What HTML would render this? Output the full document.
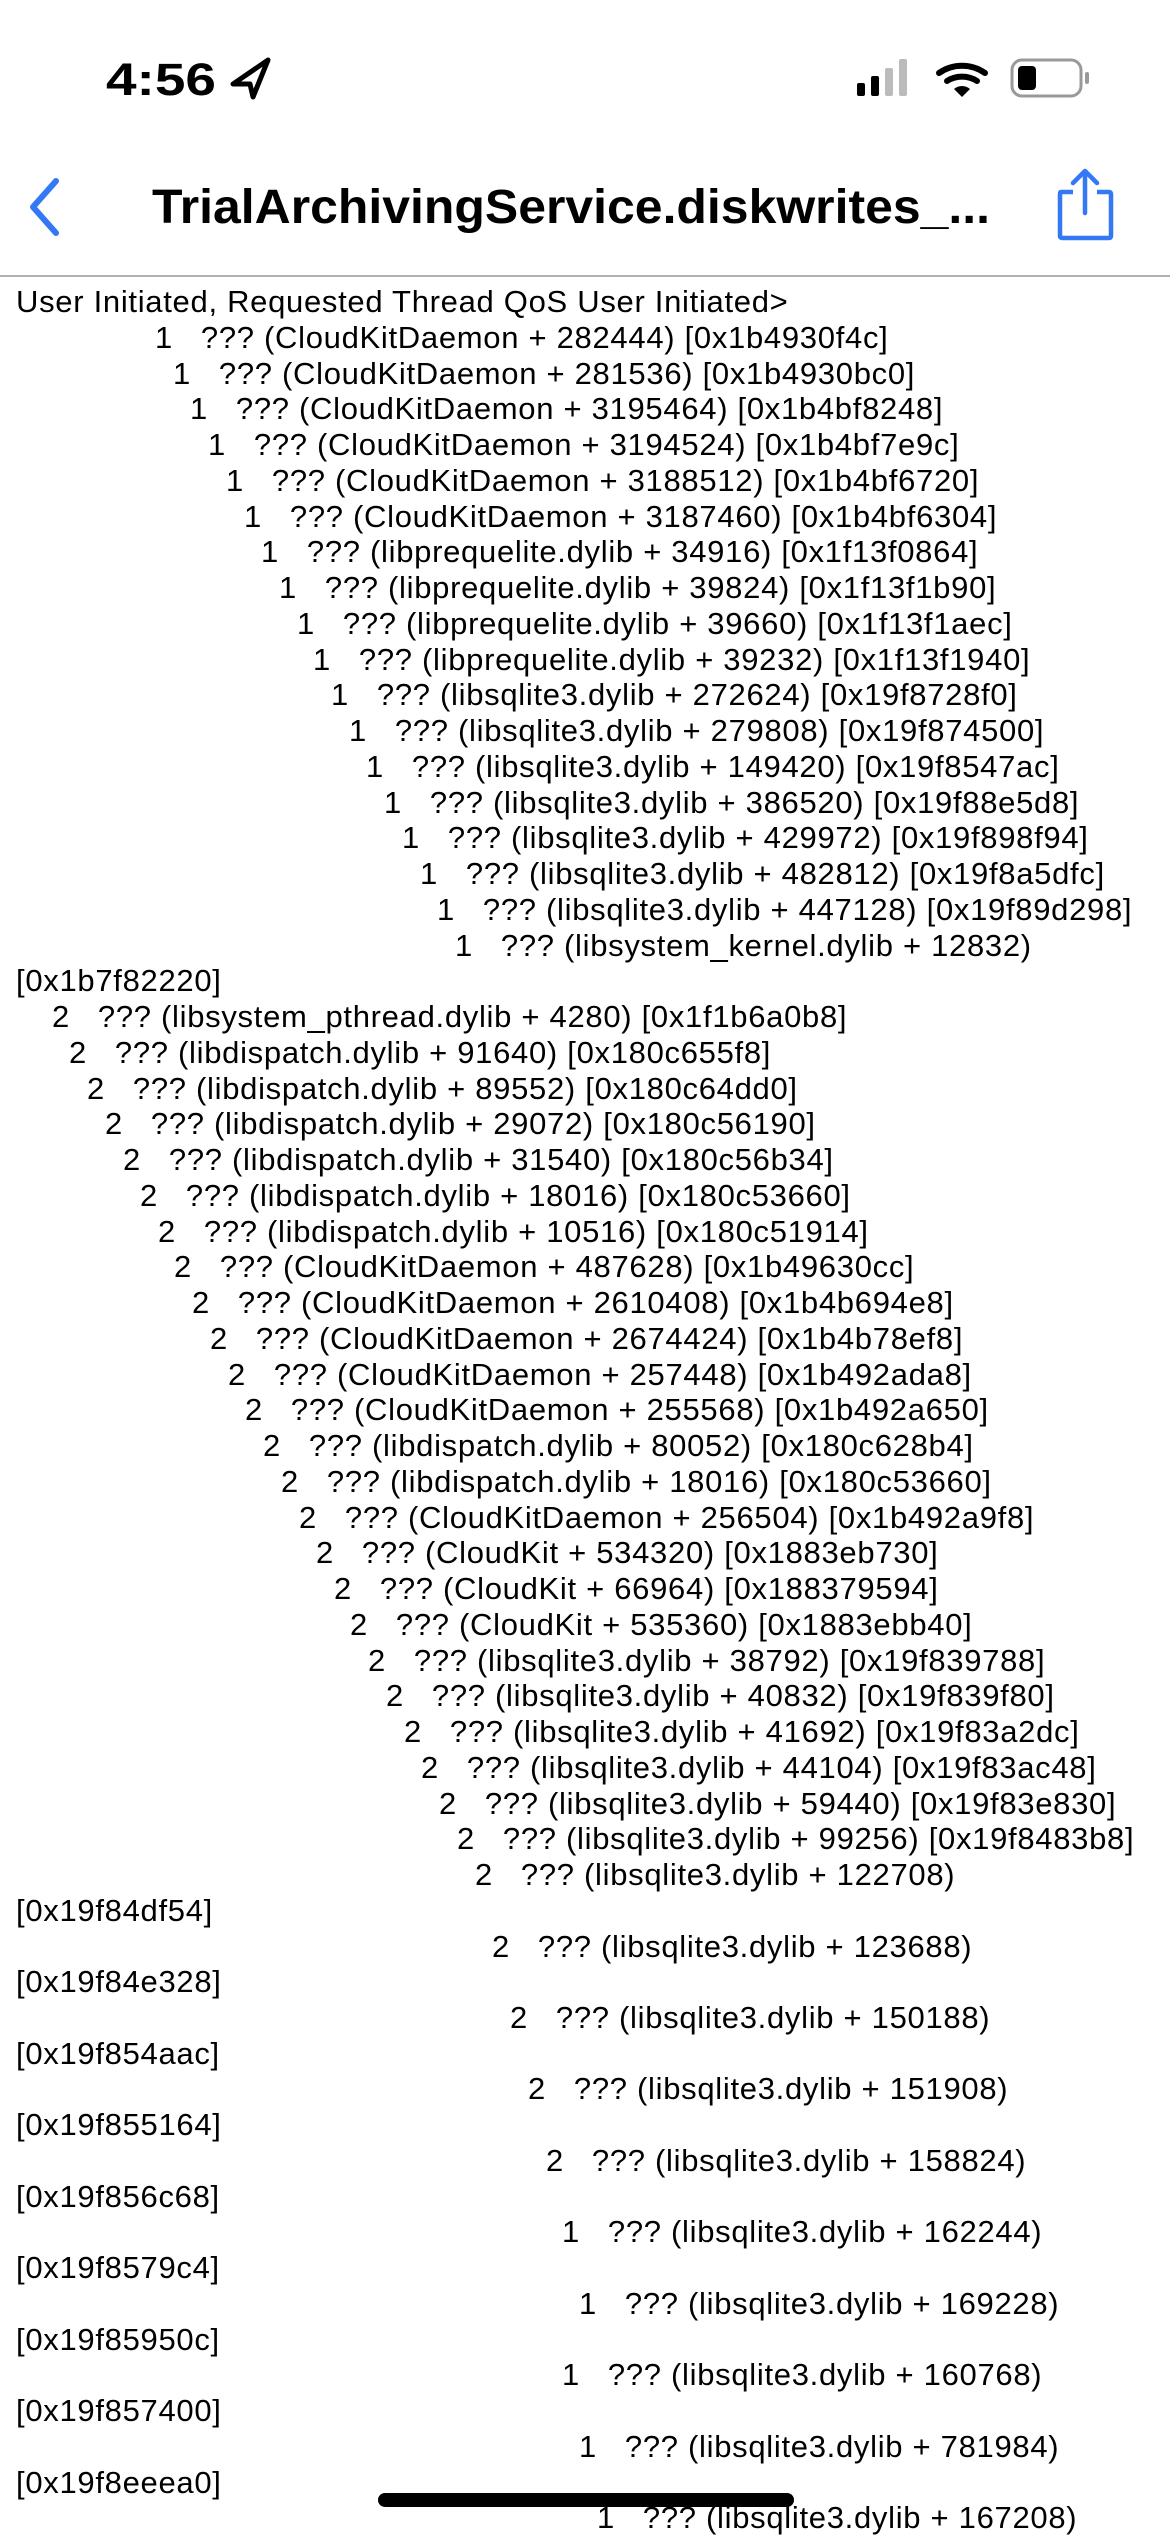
<!DOCTYPE html>
<html><head><meta charset="utf-8">
<style>
html,body{margin:0;padding:0;background:#fff;}
body{width:1170px;height:2532px;position:relative;overflow:hidden;font-family:"Liberation Sans",sans-serif;color:#000;}
.l{position:absolute;white-space:pre;font-size:31px;letter-spacing:0.7px;line-height:36px;height:36px;margin-top:3px;}
</style></head><body>
<svg width="1170" height="280" style="position:absolute;left:0;top:0" xmlns="http://www.w3.org/2000/svg">
  <text x="106" y="95" font-family="Liberation Sans" font-weight="bold" font-size="45" textLength="110" lengthAdjust="spacingAndGlyphs">4:56</text>
  <path d="M268 60 L233 84 L250 84 L253 97 Z" fill="none" stroke="#000" stroke-width="5" stroke-linejoin="round"/>
  <rect x="857" y="83" width="8" height="13" rx="2" fill="#000"/>
  <rect x="871" y="76" width="8" height="20" rx="2" fill="#000"/>
  <rect x="885" y="68" width="8" height="28" rx="2" fill="#bbb"/>
  <rect x="899" y="59" width="8" height="37" rx="2" fill="#bbb"/>
  <path d="M939 73 A40 40 0 0 1 985 73" fill="none" stroke="#000" stroke-width="6" stroke-linecap="round"/>
  <path d="M947 81 A28 28 0 0 1 977 81" fill="none" stroke="#000" stroke-width="6" stroke-linecap="round"/>
  <path d="M954 89 L962 97 L970 89 A12 12 0 0 0 954 89 Z" fill="#000"/>
  <rect x="1012" y="60" width="69" height="36" rx="10" fill="none" stroke="#999" stroke-width="3"/>
  <rect x="1018" y="66" width="18" height="24" rx="4" fill="#000"/>
  <rect x="1085" y="72" width="4" height="12" rx="2" fill="#999"/>
  <path d="M56 181 L33 207 L56 233" fill="none" stroke="#3478f6" stroke-width="6" stroke-linecap="round" stroke-linejoin="round"/>
  <text x="152" y="223" font-family="Liberation Sans" font-weight="bold" font-size="48" textLength="838" lengthAdjust="spacingAndGlyphs">TrialArchivingService.diskwrites_...</text>
  <path d="M1073 192 L1061 192 Q1060 192 1060 194 L1060 236 Q1060 238 1063 238 L1109 238 Q1111 238 1111 236 L1111 194 Q1111 192 1109 192 L1097 192" fill="none" stroke="#3478f6" stroke-width="4.5" stroke-linejoin="round"/>
  <path d="M1085 213 L1085 172 M1073 183 L1085 171 L1097 183" fill="none" stroke="#3478f6" stroke-width="4.5" stroke-linecap="round" stroke-linejoin="round"/>
  <line x1="0" y1="276" x2="1170" y2="276" stroke="#b0b0b0" stroke-width="2"/>
</svg>

<div class="l" style="top:281px;left:16px">User Initiated, Requested Thread QoS User Initiated&gt;</div>
<div class="l" style="top:317px;left:155px">1   ??? (CloudKitDaemon + 282444) [0x1b4930f4c]</div>
<div class="l" style="top:353px;left:173px">1   ??? (CloudKitDaemon + 281536) [0x1b4930bc0]</div>
<div class="l" style="top:388px;left:190px">1   ??? (CloudKitDaemon + 3195464) [0x1b4bf8248]</div>
<div class="l" style="top:424px;left:208px">1   ??? (CloudKitDaemon + 3194524) [0x1b4bf7e9c]</div>
<div class="l" style="top:460px;left:226px">1   ??? (CloudKitDaemon + 3188512) [0x1b4bf6720]</div>
<div class="l" style="top:496px;left:244px">1   ??? (CloudKitDaemon + 3187460) [0x1b4bf6304]</div>
<div class="l" style="top:531px;left:261px">1   ??? (libprequelite.dylib + 34916) [0x1f13f0864]</div>
<div class="l" style="top:567px;left:279px">1   ??? (libprequelite.dylib + 39824) [0x1f13f1b90]</div>
<div class="l" style="top:603px;left:297px">1   ??? (libprequelite.dylib + 39660) [0x1f13f1aec]</div>
<div class="l" style="top:639px;left:313px">1   ??? (libprequelite.dylib + 39232) [0x1f13f1940]</div>
<div class="l" style="top:674px;left:331px">1   ??? (libsqlite3.dylib + 272624) [0x19f8728f0]</div>
<div class="l" style="top:710px;left:349px">1   ??? (libsqlite3.dylib + 279808) [0x19f874500]</div>
<div class="l" style="top:746px;left:366px">1   ??? (libsqlite3.dylib + 149420) [0x19f8547ac]</div>
<div class="l" style="top:782px;left:384px">1   ??? (libsqlite3.dylib + 386520) [0x19f88e5d8]</div>
<div class="l" style="top:817px;left:402px">1   ??? (libsqlite3.dylib + 429972) [0x19f898f94]</div>
<div class="l" style="top:853px;left:420px">1   ??? (libsqlite3.dylib + 482812) [0x19f8a5dfc]</div>
<div class="l" style="top:889px;left:437px">1   ??? (libsqlite3.dylib + 447128) [0x19f89d298]</div>
<div class="l" style="top:925px;left:455px">1   ??? (libsystem_kernel.dylib + 12832)</div>
<div class="l" style="top:960px;left:16px">[0x1b7f82220]</div>
<div class="l" style="top:996px;left:52px">2   ??? (libsystem_pthread.dylib + 4280) [0x1f1b6a0b8]</div>
<div class="l" style="top:1032px;left:69px">2   ??? (libdispatch.dylib + 91640) [0x180c655f8]</div>
<div class="l" style="top:1068px;left:87px">2   ??? (libdispatch.dylib + 89552) [0x180c64dd0]</div>
<div class="l" style="top:1103px;left:105px">2   ??? (libdispatch.dylib + 29072) [0x180c56190]</div>
<div class="l" style="top:1139px;left:123px">2   ??? (libdispatch.dylib + 31540) [0x180c56b34]</div>
<div class="l" style="top:1175px;left:140px">2   ??? (libdispatch.dylib + 18016) [0x180c53660]</div>
<div class="l" style="top:1211px;left:158px">2   ??? (libdispatch.dylib + 10516) [0x180c51914]</div>
<div class="l" style="top:1246px;left:174px">2   ??? (CloudKitDaemon + 487628) [0x1b49630cc]</div>
<div class="l" style="top:1282px;left:192px">2   ??? (CloudKitDaemon + 2610408) [0x1b4b694e8]</div>
<div class="l" style="top:1318px;left:210px">2   ??? (CloudKitDaemon + 2674424) [0x1b4b78ef8]</div>
<div class="l" style="top:1354px;left:228px">2   ??? (CloudKitDaemon + 257448) [0x1b492ada8]</div>
<div class="l" style="top:1389px;left:245px">2   ??? (CloudKitDaemon + 255568) [0x1b492a650]</div>
<div class="l" style="top:1425px;left:263px">2   ??? (libdispatch.dylib + 80052) [0x180c628b4]</div>
<div class="l" style="top:1461px;left:281px">2   ??? (libdispatch.dylib + 18016) [0x180c53660]</div>
<div class="l" style="top:1497px;left:299px">2   ??? (CloudKitDaemon + 256504) [0x1b492a9f8]</div>
<div class="l" style="top:1532px;left:316px">2   ??? (CloudKit + 534320) [0x1883eb730]</div>
<div class="l" style="top:1568px;left:334px">2   ??? (CloudKit + 66964) [0x188379594]</div>
<div class="l" style="top:1604px;left:350px">2   ??? (CloudKit + 535360) [0x1883ebb40]</div>
<div class="l" style="top:1640px;left:368px">2   ??? (libsqlite3.dylib + 38792) [0x19f839788]</div>
<div class="l" style="top:1675px;left:386px">2   ??? (libsqlite3.dylib + 40832) [0x19f839f80]</div>
<div class="l" style="top:1711px;left:404px">2   ??? (libsqlite3.dylib + 41692) [0x19f83a2dc]</div>
<div class="l" style="top:1747px;left:421px">2   ??? (libsqlite3.dylib + 44104) [0x19f83ac48]</div>
<div class="l" style="top:1783px;left:439px">2   ??? (libsqlite3.dylib + 59440) [0x19f83e830]</div>
<div class="l" style="top:1818px;left:457px">2   ??? (libsqlite3.dylib + 99256) [0x19f8483b8]</div>
<div class="l" style="top:1854px;left:475px">2   ??? (libsqlite3.dylib + 122708)</div>
<div class="l" style="top:1890px;left:16px">[0x19f84df54]</div>
<div class="l" style="top:1926px;left:492px">2   ??? (libsqlite3.dylib + 123688)</div>
<div class="l" style="top:1961px;left:16px">[0x19f84e328]</div>
<div class="l" style="top:1997px;left:510px">2   ??? (libsqlite3.dylib + 150188)</div>
<div class="l" style="top:2033px;left:16px">[0x19f854aac]</div>
<div class="l" style="top:2068px;left:528px">2   ??? (libsqlite3.dylib + 151908)</div>
<div class="l" style="top:2104px;left:16px">[0x19f855164]</div>
<div class="l" style="top:2140px;left:546px">2   ??? (libsqlite3.dylib + 158824)</div>
<div class="l" style="top:2176px;left:16px">[0x19f856c68]</div>
<div class="l" style="top:2211px;left:562px">1   ??? (libsqlite3.dylib + 162244)</div>
<div class="l" style="top:2247px;left:16px">[0x19f8579c4]</div>
<div class="l" style="top:2283px;left:579px">1   ??? (libsqlite3.dylib + 169228)</div>
<div class="l" style="top:2319px;left:16px">[0x19f85950c]</div>
<div class="l" style="top:2354px;left:562px">1   ??? (libsqlite3.dylib + 160768)</div>
<div class="l" style="top:2390px;left:16px">[0x19f857400]</div>
<div class="l" style="top:2426px;left:579px">1   ??? (libsqlite3.dylib + 781984)</div>
<div class="l" style="top:2462px;left:16px">[0x19f8eeea0]</div>
<div class="l" style="top:2497px;left:597px">1   ??? (libsqlite3.dylib + 167208)</div>

<div style="position:absolute;left:378px;top:2493px;width:416px;height:14px;border-radius:7px;background:#000"></div>
</body></html>
